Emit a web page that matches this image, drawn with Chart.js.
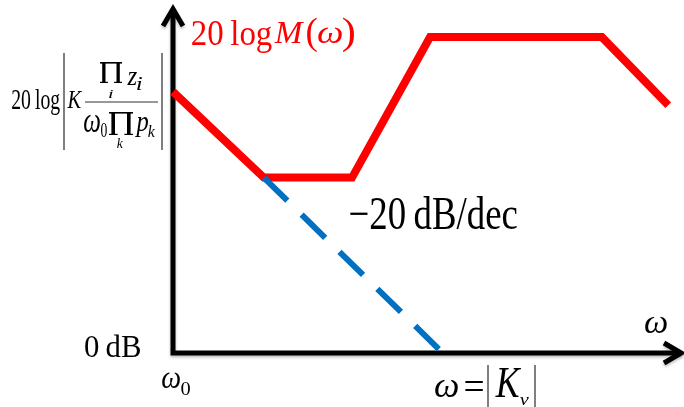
<!DOCTYPE html>
<html>
<head>
<meta charset="utf-8">
<script src="https://cdn.jsdelivr.net/npm/chart.js@4"></script>
<style>
  body { margin: 0; background: #fff; }
  canvas { display: block; }
</style>
</head>
<body>
<canvas id="bode" width="684" height="407"></canvas>
<script>
// asymptotic magnitude (arbitrary log-omega / dB units)
const redX = [0, 1.78, 3.51, 5.04, 8.41, 9.71];
const redY = [7.55, 5.07, 5.07, 9.13, 9.13, 7.16];
// -20 dB/dec extension down to 0 dB
const blueX = [1.78, 5.29];
const blueY = [5.07, 0];

const xMax = 10, yMax = 10;

function pts(xs, ys) {
  return xs.map((x, i) => ({ x: x, y: ys[i] }));
}

const serif = '"Liberation Serif", "Times New Roman", "DejaVu Serif", serif';

// draws text so its ink fills the given box [x0, y0, x1, y1]
function fit(ctx, str, style, box, color) {
  ctx.font = (style ? style + ' ' : '') + '100px ' + serif;
  ctx.textAlign = 'left';
  ctx.textBaseline = 'alphabetic';
  const m = ctx.measureText(str);
  const w = m.actualBoundingBoxLeft + m.actualBoundingBoxRight;
  const h = m.actualBoundingBoxAscent + m.actualBoundingBoxDescent;
  ctx.save();
  ctx.fillStyle = color || '#000';
  ctx.translate(box[0], box[1]);
  ctx.scale((box[2] - box[0]) / w, (box[3] - box[1]) / h);
  ctx.fillText(str, m.actualBoundingBoxLeft, m.actualBoundingBoxAscent);
  ctx.restore();
}

// product sign, times style
function prod(ctx, b) {
  const w = b[2] - b[0], h = b[3] - b[1];
  const leg = w * 0.15;
  ctx.save();
  ctx.fillStyle = '#000';
  ctx.fillRect(b[0], b[1], w, 1.6);
  ctx.fillRect(b[0] + w * 0.1, b[1], leg, h);
  ctx.fillRect(b[2] - w * 0.1 - leg, b[1], leg, h);
  ctx.fillRect(b[0], b[3] - 1.2, w * 0.36, 1.2);
  ctx.fillRect(b[2] - w * 0.36, b[3] - 1.2, w * 0.36, 1.2);
  ctx.restore();
}

const axesPlugin = {
  id: 'axes',
  beforeDatasetsDraw(chart) {
    const ctx = chart.ctx;
    const xs = chart.scales.x, ys = chart.scales.y;
    const x0 = xs.getPixelForValue(0), y0 = ys.getPixelForValue(0);
    const top = ys.getPixelForValue(yMax) + 2, right = xs.getPixelForValue(xMax) - 2;
    ctx.save();
    ctx.strokeStyle = '#000';
    ctx.lineWidth = 5;
    ctx.lineJoin = 'miter';
    ctx.shadowColor = 'rgba(0,0,0,0.25)';
    ctx.shadowBlur = 3;
    ctx.shadowOffsetY = 2;
    ctx.beginPath();
    ctx.moveTo(x0, top);
    ctx.lineTo(x0, y0);
    ctx.lineTo(right, y0);
    ctx.stroke();
    // arrow heads
    ctx.beginPath();
    ctx.moveTo(x0 - 10, top + 17);
    ctx.lineTo(x0, top);
    ctx.lineTo(x0 + 10, top + 17);
    ctx.moveTo(right - 17, y0 - 10);
    ctx.lineTo(right, y0);
    ctx.lineTo(right - 17, y0 + 10);
    ctx.stroke();
    ctx.restore();
  },
  afterDraw(chart) {
    const ctx = chart.ctx;
    const red = '#ff0000';
    // title
    fit(ctx, '20\u2009log', '', [192, 20, 272, 52], red);
    fit(ctx, 'M', 'italic', [274, 22, 304, 43], red);
    fit(ctx, '(', '', [307, 18, 317, 52], red);
    fit(ctx, 'ω', 'italic', [318, 28, 342, 43], red);
    fit(ctx, ')', '', [343, 18, 354, 52], red);
    // axis labels
    fit(ctx, '0\u2009dB', '', [85, 336, 140, 358]);
    fit(ctx, 'ω', 'italic', [162, 373, 180, 388]);
    fit(ctx, '0', '', [181, 382, 190, 395]);
    fit(ctx, 'ω', 'italic', [645, 317, 667, 333]);
    fit(ctx, '−20\u2009dB/dec', '', [350, 197, 517, 230]);
    // omega = |Kv|
    fit(ctx, 'ω', 'italic', [435, 380, 458, 397]);
    fit(ctx, '=', '', [465, 382, 483, 392]);
    fit(ctx, 'K', 'italic', [495, 368, 521, 397]);
    fit(ctx, 'v', 'italic', [520, 397, 529, 405]);
    // left formula
    fit(ctx, '20\u2009log', '', [12, 89, 60, 115]);
    fit(ctx, 'K', 'italic', [67, 92, 82, 108]);
    prod(ctx, [100, 62, 122, 83]);
    fit(ctx, 'z', 'italic', [127, 72, 137, 85]);
    fit(ctx, 'i', 'italic', [137, 78, 142, 90]);
    fit(ctx, 'i', 'italic', [109, 90, 113, 98]);
    fit(ctx, 'ω', 'italic', [84, 115, 100, 132]);
    fit(ctx, '0', '', [101, 123, 107, 137]);
    prod(ctx, [109, 112, 133, 135]);
    fit(ctx, 'k', 'italic', [117, 138, 123, 148]);
    fit(ctx, 'p', 'italic', [135, 117, 148, 137]);
    fit(ctx, 'k', 'italic', [148, 125, 155, 137]);
    ctx.save();
    ctx.strokeStyle = '#333';
    ctx.lineWidth = 1.2;
    ctx.beginPath();
    ctx.moveTo(85, 102); ctx.lineTo(158, 102);
    ctx.stroke();
    ctx.strokeStyle = '#555';
    ctx.lineWidth = 1.5;
    ctx.beginPath();
    ctx.moveTo(64, 53); ctx.lineTo(64, 150);
    ctx.moveTo(162, 53); ctx.lineTo(162, 150);
    ctx.moveTo(488, 365); ctx.lineTo(488, 407);
    ctx.moveTo(535, 365); ctx.lineTo(535, 407);
    ctx.stroke();
    ctx.restore();
  }
};

const ctx = document.getElementById('bode').getContext('2d');
const bode = new Chart(ctx, {
  type: 'line',
  data: {
    datasets: [
      {
        label: 'asymptote',
        data: pts(blueX, blueY),
        borderColor: '#0070c0',
        borderWidth: 6,
        borderDash: [33, 20],
        borderCapStyle: 'butt',
        pointRadius: 0,
        clip: false
      },
      {
        label: '20 log M(ω)',
        data: pts(redX, redY),
        borderColor: '#ff0000',
        borderWidth: 8,
        borderJoinStyle: 'miter',
        borderCapStyle: 'butt',
        pointRadius: 0,
        clip: false
      }
    ]
  },
  options: {
    responsive: false,
    animation: false,
    layout: { padding: { left: 173, right: 1, top: 7, bottom: 54 } },
    plugins: { legend: { display: false }, tooltip: { enabled: false } },
    scales: {
      x: { type: 'linear', min: 0, max: xMax, display: false },
      y: { type: 'linear', min: 0, max: yMax, display: false }
    }
  },
  plugins: [axesPlugin]
});
</script>
</body>
</html>
